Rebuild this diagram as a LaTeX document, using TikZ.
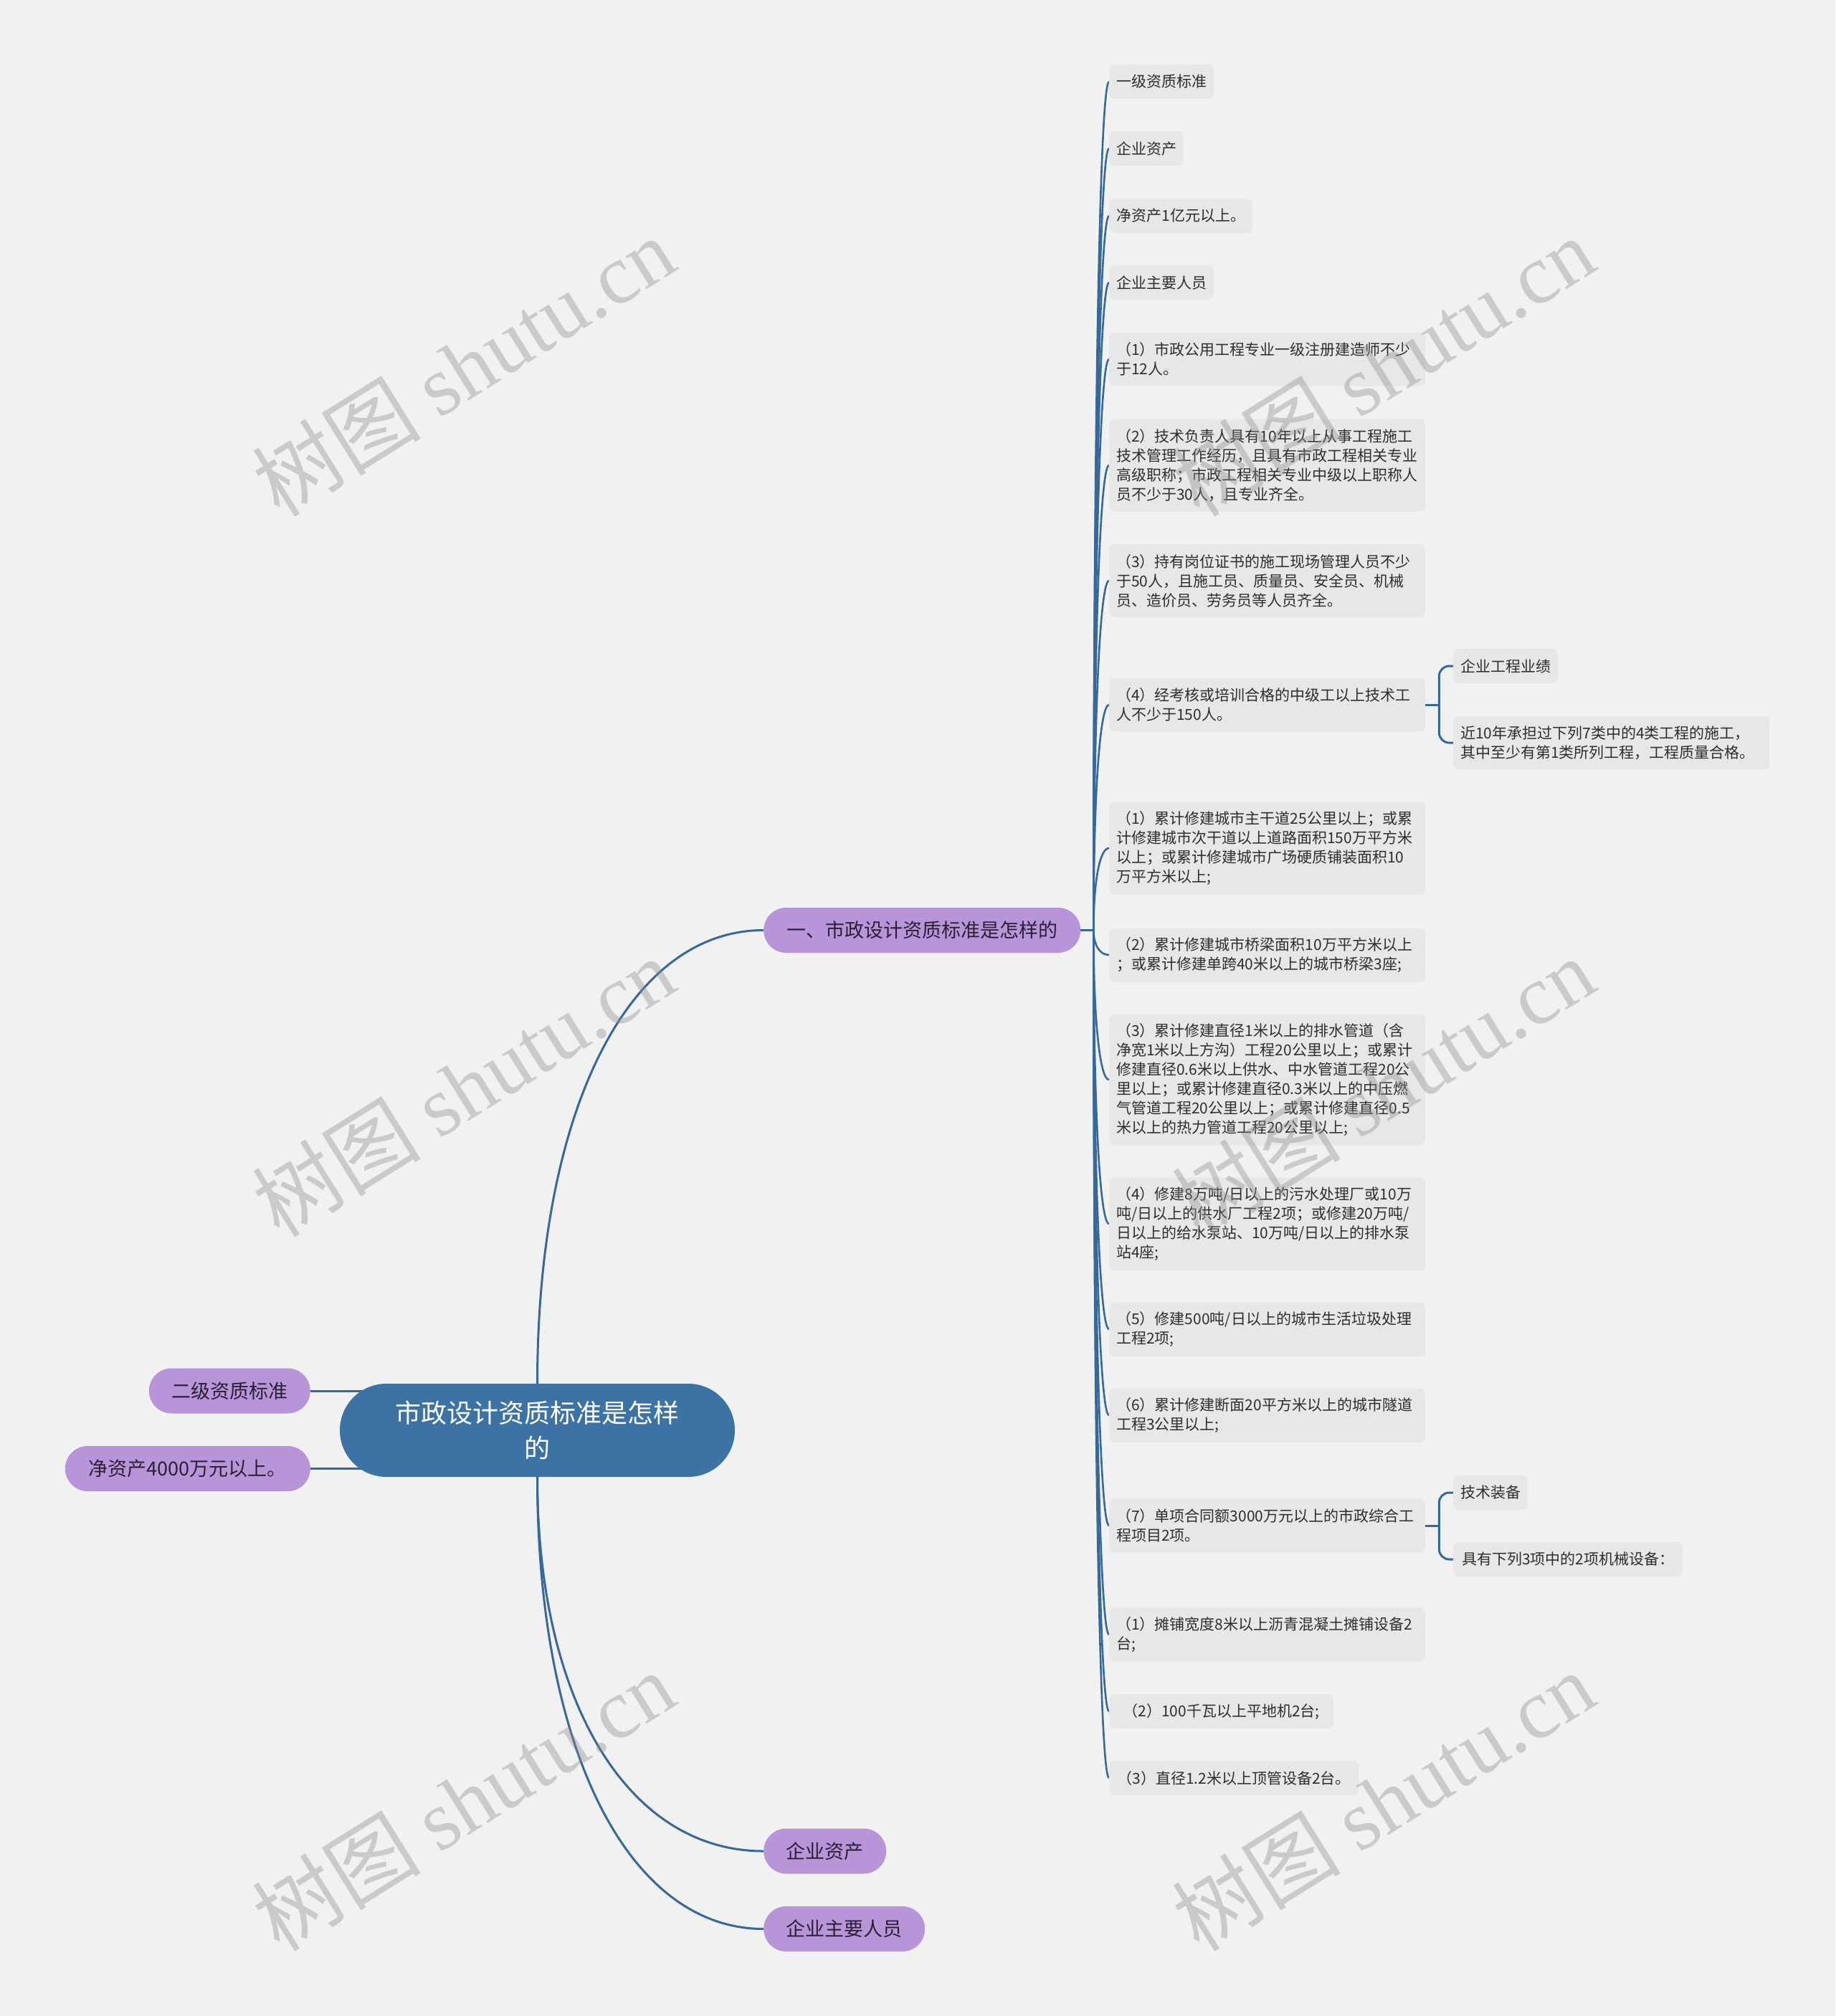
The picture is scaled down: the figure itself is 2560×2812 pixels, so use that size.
\documentclass[tikz,border=0pt]{standalone}
\usepackage{fontspec}
\setmainfont{Noto Sans CJK SC}
\newfontfamily\wmfont{Liberation Serif}
\usetikzlibrary{calc,shapes.misc}
\pgfdeclarelayer{bg}
\pgfsetlayers{bg,main}
\definecolor{bgc}{HTML}{F1F1F1}
\definecolor{leafc}{HTML}{E7E7E7}
\definecolor{linec}{HTML}{36689A}
\definecolor{rootc}{HTML}{3D72A4}
\definecolor{purp}{HTML}{B795D8}
\definecolor{ptext}{HTML}{2A1F35}
\definecolor{ltext}{HTML}{2E2E2E}
\tikzset{
  leaf/.style={fill=leafc, rounded corners=8pt, inner xsep=10pt, inner ysep=0pt, text=ltext,
    font=\fontsize{21}{27}\selectfont, align=left, anchor=west},
  nl/.style={minimum height={21+27*#1}},
  wbox/.style={text width=421pt},
  pnode/.style={rectangle, rounded corners=31.5pt, fill=purp, text=ptext, font=\fontsize{27}{34}\selectfont,
    minimum height=63pt, inner xsep=22pt, inner ysep=0pt},
  conn/.style={draw=linec, line width=3pt},
  conn2/.style={draw=linec, line width=2.6pt},
  mmc/.style={to path={.. controls ($(\tikztostart)!0.6!(\tikztostart|-\tikztotarget)$) and ($(\tikztotarget)!0.6!(\tikztotarget-|\tikztostart)$) .. (\tikztotarget)}},
  wmark/.style={rotate=32, text=black!45, opacity=0.38, font=\fontsize{118}{118}\selectfont}
}
\begin{document}
\begin{tikzpicture}[x=1pt,y=-1pt]
\useasboundingbox (0,0) rectangle (2560,2812);
\begin{pgfonlayer}{bg}
\fill[bgc] (0,0) rectangle (2560,2812);
\end{pgfonlayer}

% root and level-1 nodes
\node[rounded rectangle, fill=rootc, minimum width=551pt,
  minimum height=130pt, inner sep=0pt, text=white, font=\fontsize{36}{49}\selectfont, align=center]
  (root) at (749.5,1995) {市政设计资质标准是怎样\\的};
\node[pnode, minimum width=225pt, anchor=east] (p1) at (433,1940) {二级资质标准};
\node[pnode, minimum width=342pt, anchor=east] (p2) at (433,2048.5) {净资产4000万元以上。};
\node[pnode, minimum width=442pt, anchor=west] (b1) at (1065,1297.5) {一、市政设计资质标准是怎样的};
\node[pnode, minimum width=171pt, anchor=west] (b2) at (1065,2582) {企业资产};
\node[pnode, minimum width=225pt, anchor=west] (b3) at (1065,2690.5) {企业主要人员};

% leaves
\node[leaf, nl=1] (l1) at (1547,114) {一级资质标准};
\node[leaf, nl=1] (l2) at (1547,207) {企业资产};
\node[leaf, nl=1, minimum width=200pt] (l3) at (1547,301) {净资产1亿元以上。};
\node[leaf, nl=1] (l4) at (1547,394) {企业主要人员};
\node[leaf, nl=2, wbox] (l5) at (1547,501) {（1）市政公用工程专业一级注册建造师不少\\于12人。};
\node[leaf, nl=4, wbox] (l6) at (1547,649) {（2）技术负责人具有10年以上从事工程施工\\技术管理工作经历，且具有市政工程相关专业\\高级职称；市政工程相关专业中级以上职称人\\员不少于30人，且专业齐全。};
\node[leaf, nl=3, wbox] (l7) at (1547,810) {（3）持有岗位证书的施工现场管理人员不少\\于50人，且施工员、质量员、安全员、机械\\员、造价员、劳务员等人员齐全。};
\node[leaf, nl=2, wbox] (l8) at (1547,983) {（4）经考核或培训合格的中级工以上技术工\\人不少于150人。};
\node[leaf, nl=4, wbox] (l9) at (1547,1183) {（1）累计修建城市主干道25公里以上；或累\\计修建城市次干道以上道路面积150万平方米\\以上；或累计修建城市广场硬质铺装面积10\\万平方米以上;};
\node[leaf, nl=2, wbox] (l10) at (1547,1332) {（2）累计修建城市桥梁面积10万平方米以上\\；或累计修建单跨40米以上的城市桥梁3座;};
\node[leaf, nl=6, wbox] (l11) at (1547,1506) {（3）累计修建直径1米以上的排水管道（含\\净宽1米以上方沟）工程20公里以上；或累计\\修建直径0.6米以上供水、中水管道工程20公\\里以上；或累计修建直径0.3米以上的中压燃\\气管道工程20公里以上；或累计修建直径0.5\\米以上的热力管道工程20公里以上;};
\node[leaf, nl=4, wbox] (l12) at (1547,1707) {（4）修建8万吨/日以上的污水处理厂或10万\\吨/日以上的供水厂工程2项；或修建20万吨/\\日以上的给水泵站、10万吨/日以上的排水泵\\站4座;};
\node[leaf, nl=2, wbox] (l13) at (1547,1854) {（5）修建500吨/日以上的城市生活垃圾处理\\工程2项;};
\node[leaf, nl=2, wbox] (l14) at (1547,1974) {（6）累计修建断面20平方米以上的城市隧道\\工程3公里以上;};
\node[leaf, nl=2, wbox] (l15) at (1547,2128) {（7）单项合同额3000万元以上的市政综合工\\程项目2项。};
\node[leaf, nl=2, wbox] (l16) at (1547,2280) {（1）摊铺宽度8米以上沥青混凝土摊铺设备2\\台;};
\node[leaf, nl=1, minimum width=313pt] (l17) at (1547,2387) {（2）100千瓦以上平地机2台;};
\node[leaf, nl=1, minimum width=348pt] (l18) at (1547,2480) {（3）直径1.2米以上顶管设备2台。};

% level-3 children
\node[leaf, nl=1] (k1) at (2027,929) {企业工程业绩};
\node[leaf, nl=2, wbox] (k2) at (2027,1036) {近10年承担过下列7类中的4类工程的施工，\\其中至少有第1类所列工程，工程质量合格。};
\node[leaf, nl=1] (k3) at (2027,2082) {技术装备};
\node[leaf, nl=1, minimum width=320pt] (k4) at (2027,2175) {具有下列3项中的2项机械设备：};

\coordinate (j1) at ($(b1.east)+(18,0)$);
\coordinate (bx8) at ($(l8.east)+(19,0)$);
\coordinate (bx15) at ($(l15.east)+(19,0)$);

\begin{pgfonlayer}{bg}
  \draw[conn] (p1.east) -- (p1.east -| root.center);
  \draw[conn] (p2.east) -- (p2.east -| root.center);
  \draw[conn] (root.north) to[mmc] (b1.west);
  \draw[conn] (root.south) to[mmc] (b2.west);
  \draw[conn] (root.south) to[mmc] (b3.west);
  \draw[conn] (b1.east) -- (j1);
  \foreach \n in {l1,l2,l3,l4,l5,l6,l7,l8,l9,l10,l11,l12,l13,l14,l15,l16,l17,l18}
    \draw[conn2] (j1) to[mmc] (\n.west);
  \draw[conn] (l8.east) -- (bx8);
  \draw[conn, rounded corners=14pt] (bx8) |- (k1.west);
  \draw[conn, rounded corners=14pt] (bx8) |- (k2.west);
  \draw[conn] (l15.east) -- (bx15);
  \draw[conn, rounded corners=14pt] (bx15) |- (k3.west);
  \draw[conn, rounded corners=14pt] (bx15) |- (k4.west);
\end{pgfonlayer}

% watermarks
\node[wmark] (w1) at (646,511) {树图 {\wmfont shutu.cn}};
\node[wmark] (w2) at (1929,511) {树图 {\wmfont shutu.cn}};
\node[wmark] (w3) at (646,1516) {树图 {\wmfont shutu.cn}};
\node[wmark] (w4) at (1929,1516) {树图 {\wmfont shutu.cn}};
\node[wmark] (w5) at (646,2512) {树图 {\wmfont shutu.cn}};
\node[wmark] (w6) at (1929,2512) {树图 {\wmfont shutu.cn}};
\end{tikzpicture}
\end{document}
